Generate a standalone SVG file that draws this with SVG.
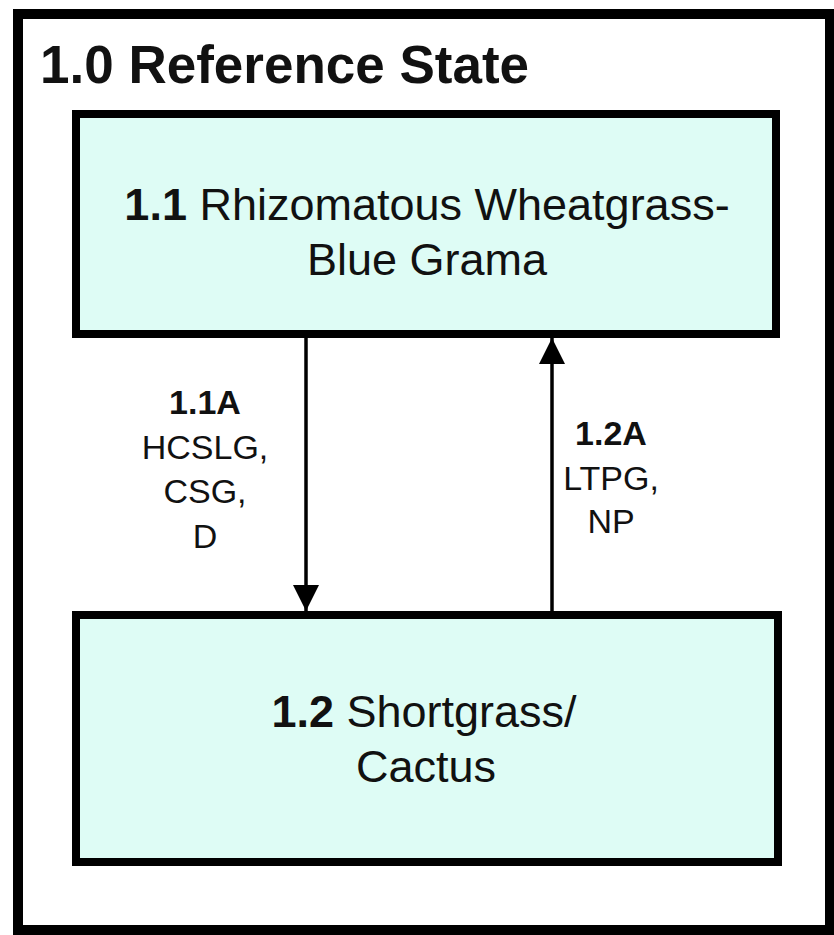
<svg xmlns="http://www.w3.org/2000/svg" width="834" height="935" viewBox="0 0 834 935">
<style>
text{font-family:"Liberation Sans",Arial,sans-serif;fill:#111;text-anchor:middle}
.title{font-size:53px;font-weight:bold;text-anchor:start}
.node{font-size:45px}
.lbl{font-size:34px}
.b{font-weight:bold}
.box{fill:#defcf5;stroke:#000;stroke-width:8}
.conn{stroke:#000;stroke-width:3.5;fill:none}
</style>
<defs>
<marker id="ah" viewBox="0 0 10 10" refX="10" refY="5" markerWidth="7.5" markerHeight="7.5" markerUnits="strokeWidth" orient="auto">
<path d="M0,0 L10,5 L0,10 z" fill="#000"/>
</marker>
</defs>
<rect width="834" height="935" fill="#fff"/>
<g id="state">
<rect x="18" y="14" width="812" height="916" fill="none" stroke="#000" stroke-width="10"/>
<text class="title" x="40" y="83">1.0 Reference State</text>
</g>
<g id="node11">
<rect class="box" x="76" y="114" width="700" height="220"/>
<text class="node" x="427" y="220"><tspan class="b">1.1</tspan> Rhizomatous Wheatgrass-</text>
<text class="node" x="427" y="275">Blue Grama</text>
</g>
<g id="node12">
<rect class="box" x="76" y="615" width="702" height="247"/>
<text class="node" x="424" y="727"><tspan class="b">1.2</tspan> Shortgrass/</text>
<text class="node" x="426" y="782">Cactus</text>
</g>
<g id="connectors">
<line class="conn" x1="306" y1="338" x2="306" y2="611" marker-end="url(#ah)"/>
<line class="conn" x1="552" y1="611" x2="552" y2="338" marker-end="url(#ah)"/>
<text class="lbl b" x="205" y="414">1.1A</text>
<text class="lbl" x="205" y="459">HCSLG,</text>
<text class="lbl" x="205" y="503">CSG,</text>
<text class="lbl" x="205" y="548">D</text>
<text class="lbl b" x="611" y="445">1.2A</text>
<text class="lbl" x="611" y="490">LTPG,</text>
<text class="lbl" x="611" y="533">NP</text>
</g>
</svg>
